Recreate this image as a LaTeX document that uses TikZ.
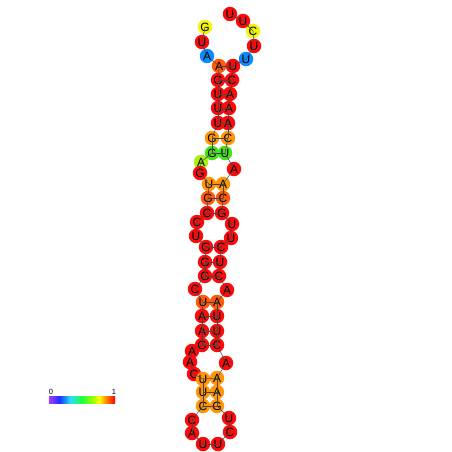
\documentclass[tikz,border=0pt]{standalone}
\usepackage{fontspec}
\setmainfont{Liberation Sans}
\definecolor{cR}{RGB}{250,12,12}
\definecolor{cOR}{RGB}{255,90,10}
\definecolor{cO}{RGB}{255,150,10}
\definecolor{cY}{RGB}{240,245,10}
\definecolor{cB}{RGB}{10,140,255}
\definecolor{cGn}{RGB}{70,225,30}
\definecolor{cYG}{RGB}{170,240,20}
\definecolor{lnc}{RGB}{70,70,70}
\definecolor{sA}{RGB}{165,60,255}
\definecolor{sB}{RGB}{30,50,255}
\definecolor{sC}{RGB}{40,220,255}
\definecolor{sD}{RGB}{30,255,60}
\definecolor{sE}{RGB}{150,255,0}
\definecolor{sF}{RGB}{255,255,0}
\definecolor{sG}{RGB}{255,140,0}
\definecolor{sH}{RGB}{255,0,0}
\pgfdeclarehorizontalshading{rainbow}{100bp}{color(0bp)=(sA); color(25bp)=(sA); color(33bp)=(sB); color(41bp)=(sC); color(50bp)=(sD); color(58bp)=(sE); color(63bp)=(sF); color(68bp)=(sG); color(75bp)=(sH); color(100bp)=(sH)}
\tikzset{
  nt/.style={circle, inner sep=0pt, minimum size=14.5pt, font=\fontsize{12}{12}\selectfont, text=black},
  bb/.style={draw=lnc, line width=0.5pt},
  bp/.style={draw=lnc, line width=0.5pt},
  lbl/.style={font=\fontsize{7.5}{7.5}\selectfont, inner sep=0pt}
}
\begin{document}
\begin{tikzpicture}[x=1pt,y=-1pt]
\useasboundingbox (0,0) rectangle (452,452);
\fill[white] (0,0) rectangle (452,452);
\foreach \i/\x/\y/\c/\t in {
1/205/27/cY/G, 2/202/42/cR/U, 3/207/56/cB/A, 4/219/66/cOR/A, 5/218/80/cR/G,
6/218/94/cR/U, 7/218/108/cR/U, 8/218/123/cR/U, 9/212/138/cO/G, 10/212/153/cGn/G,
11/201/162/cYG/A, 12/200/173/cR/G, 13/209/184/cO/U, 14/208/198/cOR/G, 15/207/213/cR/C,
16/197/222/cR/C, 17/196/236/cR/U, 18/206/247/cR/G, 19/205/262/cR/G, 20/205/276/cR/G,
21/195/289/cR/C, 22/203/302/cOR/U, 23/202/316/cR/A, 24/202/331/cR/A, 25/202/345/cR/G,
26/192/351/cR/A, 27/190/362/cR/A, 28/194/374/cR/C, 29/203/379/cO/U, 30/203/392/cO/U,
31/203/406/cO/C, 32/192/420/cR/C, 33/192/433/cR/A, 34/203/444/cR/U, 35/218/444/cR/U,
36/230/432/cR/C, 37/229/418/cR/U, 38/217/406/cO/G, 39/217/392/cO/A, 40/217/378/cO/A,
41/226/363/cR/A, 42/217/345/cR/C, 43/217/331/cR/U, 44/217/316/cR/U, 45/217/302/cOR/A,
46/227/290/cR/A, 47/219/276/cR/C, 48/220/262/cR/U, 49/221/247/cR/C, 50/231/238/cR/U,
51/232/224/cR/U, 52/222/213/cR/G, 53/223/198/cOR/C, 54/223/184/cO/A, 55/234/169/cR/A,
56/225/153/cGn/U, 57/228/138/cO/C, 58/228/123/cR/A, 59/229/108/cR/A, 60/230/94/cR/A,
61/232/80/cR/C, 62/233/66/cR/U, 63/246/59/cB/U, 64/254/46/cR/U, 65/253/31/cY/C,
66/243/21/cR/U, 67/230/14/cR/U}
  \node[nt, fill=\c] (n\i) at (\x,\y) {\t};
\foreach \i [evaluate=\i as \j using int(\i+1)] in {1,...,66}
  \draw[bb] (n\i.center) -- (n\j.center);
\foreach \a/\b in {4/62,5/61,6/60,7/59,8/58,9/57,10/56,13/54,14/53,15/52,18/49,19/48,20/47,22/45,23/44,24/43,25/42,29/40,30/39,31/38}
  \draw[bp] (n\a.center) -- (n\b.center);
\shade[shading=rainbow] (49,396) rectangle (115,403);
\node[lbl] (l0) at (51,392) {0};
\node[lbl] (l1) at (114,392) {1};
\end{tikzpicture}
\end{document}
